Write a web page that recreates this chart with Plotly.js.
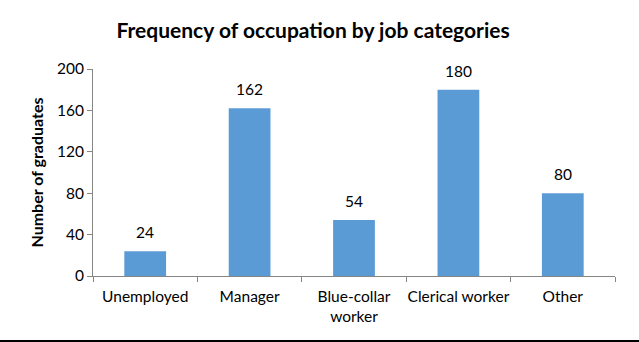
<!DOCTYPE html>
<html>
<head>
<meta charset="utf-8">
<script src="https://cdn.plot.ly/plotly-3.0.1.min.js"></script>
<style>
  html, body { margin: 0; padding: 0; background: #fff; }
  #chart { width: 639px; height: 340px; border-bottom: 2px solid #000; }
</style>
</head>
<body>
<div id="chart"></div>
<script>
const categories = ["Unemployed", "Manager", "Blue-collar<br>worker", "Clerical worker", "Other"];
const graduates = [24, 162, 54, 180, 80];
const yTicks = [0, 40, 80, 120, 160, 200];

const font = "Lato, 'Open Sans', sans-serif";
const axisColor = "#868686";

const trace = {
  type: "bar",
  x: categories,
  y: graduates,
  marker: { color: "#5B9BD5" },
  hoverinfo: "x+y"
};

const annotations = categories.map((c, i) => ({
  x: c,
  y: graduates[i],
  text: String(graduates[i]),
  showarrow: false,
  yanchor: "bottom",
  yshift: 8,
  font: { family: font, size: 15.5, color: "#000" }
}));

const layout = {
  width: 639,
  height: 340,
  margin: { l: 93, r: 24, t: 69, b: 64 },
  paper_bgcolor: "#fff",
  plot_bgcolor: "#fff",
  bargap: 0.6,
  showlegend: false,
  title: {
    text: "<b>Frequency of occupation by job categories</b>",
    font: { family: font, size: 21, color: "#000" },
    x: 0.49, xanchor: "center",
    y: 0.91, yanchor: "middle"
  },
  xaxis: {
    type: "category",
    showline: true,
    linecolor: axisColor,
    linewidth: 1,
    ticks: "outside",
    tickson: "boundaries",
    ticklen: 5,
    tickcolor: axisColor,
    tickangle: 0,
    ticklabelstandoff: 6,
    showgrid: false,
    zeroline: false,
    tickfont: { family: font, size: 15.5, color: "#000" }
  },
  yaxis: {
    range: [0, 200],
    tickvals: yTicks,
    ticktext: yTicks.map(String),
    showline: true,
    linecolor: axisColor,
    linewidth: 1,
    ticks: "outside",
    ticklen: 5,
    tickcolor: axisColor,
    showgrid: false,
    zeroline: false,
    tickfont: { family: font, size: 15.5, color: "#000" },
    title: {
      text: "<b>Number of graduates</b>",
      font: { family: font, size: 16, color: "#000" },
      standoff: 9
    }
  },
  annotations: annotations
};

Plotly.newPlot("chart", [trace], layout, { displayModeBar: false, staticPlot: true });
</script>
</body>
</html>
